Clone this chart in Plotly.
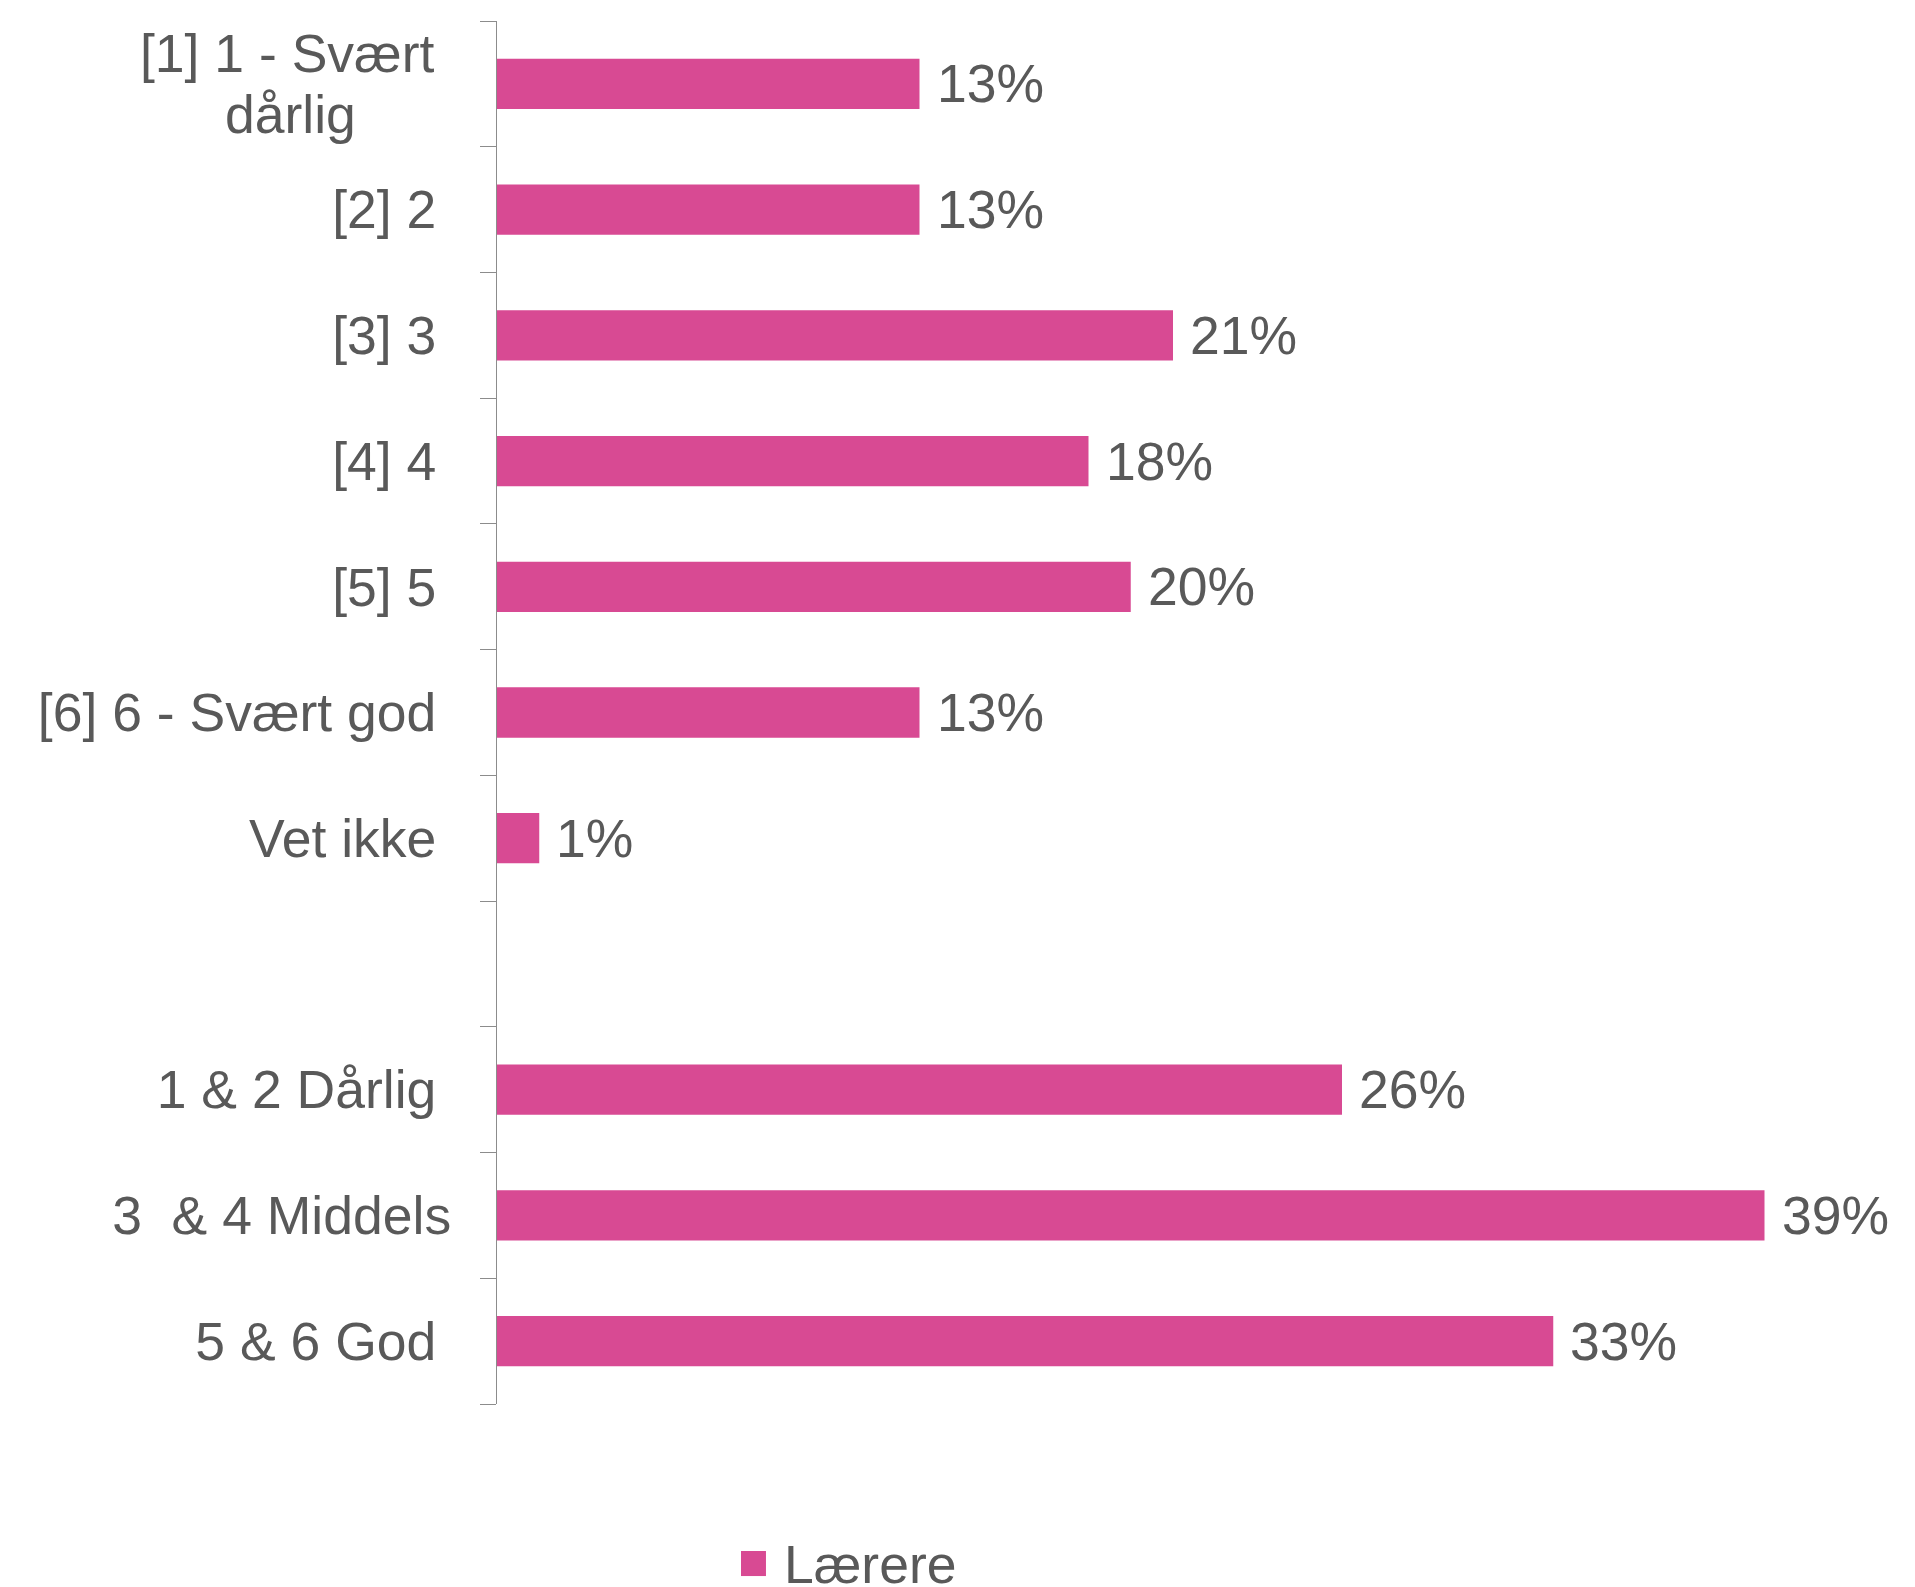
import plotly.graph_objects as go

categories = ["[1] 1 - Svært dårlig", "[2] 2", "[3] 3", "[4] 4", "[5] 5",
              "[6] 6 - Svært god", "Vet ikke", " ", "1 & 2 Dårlig",
              "3  & 4 Middels", "5 & 6 God"]
tick_labels = ["", "[2] 2\u00a0", "[3] 3\u00a0", "[4] 4\u00a0", "[5] 5\u00a0",
               "[6] 6 - Svært god\u00a0", "Vet ikke\u00a0", "", "1 & 2 Dårlig\u00a0",
               "3  & 4 Middels", "5 & 6 God\u00a0"]
first_label_lines = ["[1] 1 - Svært", "dårlig"]
values = [13.0, 13.0, 20.8, 18.2, 19.5, 13.0, 1.3, None, 26.0, 39.0, 32.5]
value_labels = ["13%", "13%", "21%", "18%", "20%", "13%", "1%", "", "26%", "39%", "33%"]
series_name = "Lærere"

BAR = "#D84A93"
TXT = "#595959"
AX = "#8C8C8C"
FONT = "Liberation Sans, Arial, sans-serif"
FS = 53.5

fig = go.Figure()
fig.add_trace(go.Bar(
    y=categories, x=values, orientation="h", name=series_name,
    marker=dict(color=BAR, line=dict(width=0)), width=0.4, showlegend=False,
))

for c, v, t in zip(categories, values, value_labels):
    if v is None:
        continue
    fig.add_annotation(x=v, y=c, text=t, xref="x", yref="y", showarrow=False,
                       xanchor="left", yanchor="middle", xshift=15,
                       font=dict(family=FONT, size=FS, color=TXT))

# wrapped first category label: first line right-aligned, second centered under it
fig.add_annotation(x=0, y=categories[0], xref="paper", yref="y", showarrow=False,
                   text=first_label_lines[0], xanchor="right", yanchor="middle",
                   xshift=-61, yshift=30,
                   font=dict(family=FONT, size=FS, color=TXT))
fig.add_annotation(x=0, y=categories[0], xref="paper", yref="y", showarrow=False,
                   text=first_label_lines[1], xanchor="center", yanchor="middle",
                   xshift=-207, yshift=-31,
                   font=dict(family=FONT, size=FS, color=TXT))

# legend
fig.add_shape(type="rect", xref="paper", yref="paper",
              x0=0.1877, x1=0.2069, y0=-0.1244, y1=-0.1063,
              fillcolor=BAR, line=dict(width=0))
fig.add_annotation(x=0.2192, y=-0.1157, xref="paper", yref="paper", showarrow=False,
                   text=series_name, xanchor="left", yanchor="middle",
                   font=dict(family=FONT, size=FS, color=TXT))

fig.update_layout(
    width=1907, height=1579,
    margin=dict(l=489, r=118, t=13, b=183),
    paper_bgcolor="white", plot_bgcolor="white",
    font=dict(family=FONT, size=FS, color=TXT),
)
fig.update_xaxes(range=[0, 40], visible=False, showgrid=False, zeroline=False)
fig.update_yaxes(
    type="category", categoryorder="array", categoryarray=categories,
    range=[10.5, -0.5], tickmode="array", tickvals=categories, ticktext=tick_labels,
    tickson="boundaries", ticks="outside", ticklen=16, tickcolor=AX, tickwidth=1.3,
    showline=True, linecolor=AX, linewidth=1.3, showgrid=False, zeroline=False,
    ticklabelstandoff=34,
    tickfont=dict(family=FONT, size=FS, color=TXT),
)

fig.write_html("out.html")
